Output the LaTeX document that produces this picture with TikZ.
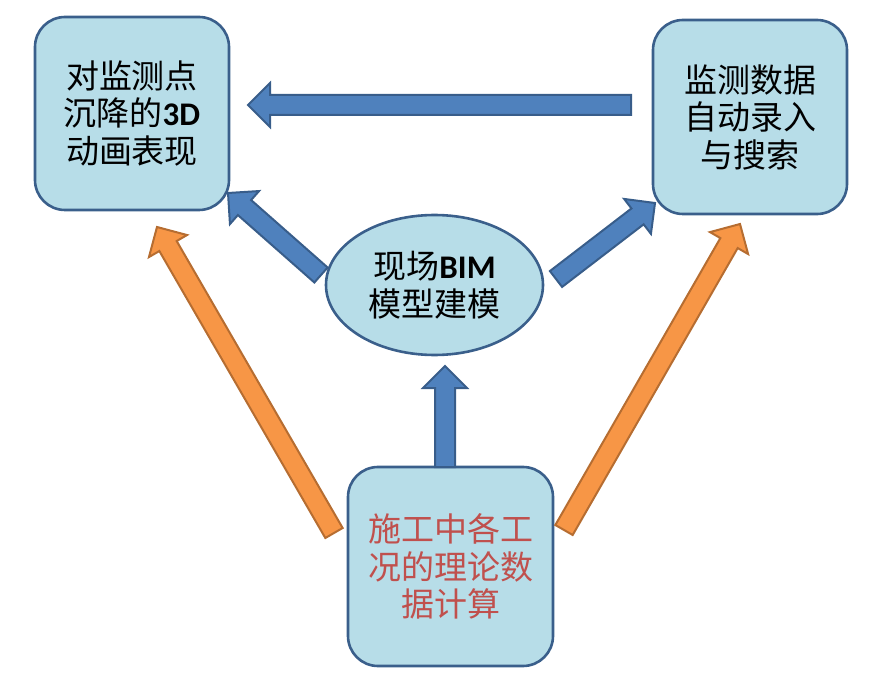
\documentclass[tikz,border=0pt]{standalone}
\usepackage{fontspec}
\setmainfont{Carlito}
\newfontfamily\cjk{Noto Sans CJK SC}
\usetikzlibrary{calc,shapes.geometric}
\definecolor{boxfill}{HTML}{B7DDE8}
\definecolor{boxdraw}{HTML}{3A5F8B}
\definecolor{bluefill}{HTML}{4F81BD}
\definecolor{bluedraw}{HTML}{385D8A}
\definecolor{orangefill}{HTML}{F79646}
\definecolor{orangedraw}{HTML}{B66D31}
\definecolor{redtext}{HTML}{C0504D}
\newcommand\blockarr[3]{%
  \coordinate (#1-#2-h) at ($(#2)!22pt!(#1)$);
  \draw[#3] ($(#1)!10pt!90:(#2)$) -- ($(#1-#2-h)!10pt!90:(#2)$) -- ($(#1-#2-h)!22pt!90:(#2)$) -- (#2)
    -- ($(#1-#2-h)!22pt!-90:(#2)$) -- ($(#1-#2-h)!10pt!-90:(#2)$) -- ($(#1)!10pt!-90:(#2)$) -- cycle;
}
\tikzset{
  card/.style={draw=boxdraw, fill=boxfill, line width=2.6pt, rounded corners=30pt, align=center,
    font=\cjk\fontsize{33}{37.5}\selectfont, inner sep=0pt},
  oval/.style={draw=boxdraw, fill=boxfill, line width=2.6pt, ellipse, align=center,
    font=\cjk\fontsize{33}{38.5}\selectfont, inner sep=0pt},
  bluearr/.style={fill=bluefill, draw=bluedraw, line width=2pt, line join=miter},
  orangearr/.style={fill=orangefill, draw=orangedraw, line width=2pt, line join=miter},
}
\begin{document}
\begin{tikzpicture}[x=1pt,y=-1pt]
\useasboundingbox (0,0) rectangle (871,679);
\node[card, minimum width=194pt, minimum height=193pt] (tl) at (132,113.5)
  {对监测点\\沉降的{\fontspec{Carlito}\bfseries 3D}\\动画表现};
\node[card, minimum width=194pt, minimum height=194pt] (tr) at (750,117)
  {监测数据\\自动录入\\与搜索};
\node[oval, minimum width=217pt, minimum height=140pt] (bim) at (434.5,285)
  {现场{\fontspec{Carlito}\bfseries BIM}\\模型建模};
\node[card, minimum width=205pt, minimum height=199pt, text=redtext] (calc) at (450.5,566.5)
  {施工中各工\\况的理论数\\据计算};
% connector end points
\coordinate (hT) at (631,105);  \coordinate (hP) at (248,105);
\coordinate (lT) at (321,275);  \coordinate (lP) at (228,193);
\coordinate (rT) at (556,279);  \coordinate (rP) at (655,203);
\coordinate (vT) at (445,467);  \coordinate (vP) at (445,366);
\coordinate (oLT) at (334,533); \coordinate (oLP) at (157,227);
\coordinate (oRT) at (564,530); \coordinate (oRP) at (740,224);
\blockarr{hT}{hP}{bluearr}
\blockarr{lT}{lP}{bluearr}
\blockarr{rT}{rP}{bluearr}
\blockarr{vT}{vP}{bluearr}
\blockarr{oLT}{oLP}{orangearr}
\blockarr{oRT}{oRP}{orangearr}
\end{tikzpicture}
\end{document}
